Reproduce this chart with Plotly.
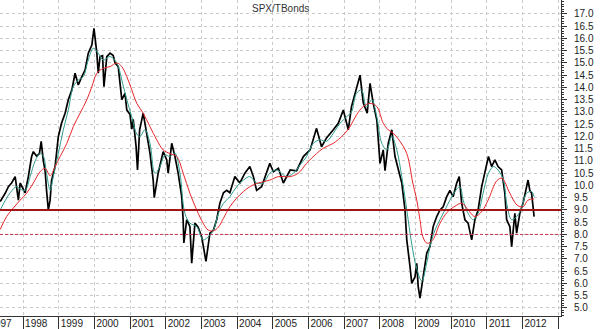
import plotly.graph_objects as go

# ---------------- data ----------------
chart_title = "SPX/TBonds"

ratio_t = [1997.36, 1997.45, 1997.50, 1997.59, 1997.68, 1997.78, 1997.82, 1997.87, 1997.92, 1998.01,
           1998.06, 1998.15, 1998.24, 1998.29, 1998.38, 1998.46, 1998.51, 1998.57, 1998.62, 1998.66,
           1998.71, 1998.76, 1998.80, 1998.90, 1998.99, 1999.08, 1999.18, 1999.27, 1999.37, 1999.46,
           1999.55, 1999.65, 1999.74, 1999.83, 1999.93, 1999.99, 2000.07, 2000.11, 2000.16, 2000.23,
           2000.27, 2000.35, 2000.44, 2000.53, 2000.58, 2000.67, 2000.72, 2000.77, 2000.86, 2000.91,
           2001.00, 2001.05, 2001.09, 2001.17, 2001.21, 2001.27, 2001.37, 2001.47, 2001.56, 2001.65,
           2001.68, 2001.79, 2001.89, 2001.93, 2002.03, 2002.07, 2002.17, 2002.26, 2002.35, 2002.45,
           2002.49, 2002.51, 2002.59, 2002.68, 2002.73, 2002.82, 2002.91, 2003.01, 2003.13, 2003.24,
           2003.34, 2003.43, 2003.52, 2003.62, 2003.71, 2003.80, 2003.94, 2004.08, 2004.22, 2004.36,
           2004.46, 2004.55, 2004.69, 2004.78, 2004.92, 2005.02, 2005.16, 2005.30, 2005.49, 2005.67,
           2005.86, 2006.05, 2006.23, 2006.37, 2006.51, 2006.70, 2006.84, 2006.98, 2007.12, 2007.21,
           2007.31, 2007.45, 2007.54, 2007.65, 2007.73, 2007.82, 2007.92, 2008.01, 2008.10, 2008.15,
           2008.24, 2008.34, 2008.43, 2008.52, 2008.62, 2008.71, 2008.76, 2008.85, 2008.90, 2008.99,
           2009.04, 2009.08, 2009.13, 2009.22, 2009.32, 2009.41, 2009.50, 2009.60, 2009.69, 2009.78,
           2009.88, 2009.97, 2010.06, 2010.16, 2010.23, 2010.30, 2010.39, 2010.48, 2010.58, 2010.67,
           2010.76, 2010.86, 2010.95, 2011.05, 2011.14, 2011.23, 2011.32, 2011.42, 2011.51, 2011.56,
           2011.65, 2011.70, 2011.79, 2011.84, 2011.93, 2012.02, 2012.16, 2012.21, 2012.26, 2012.30,
           2012.33]
ratio_v = [9.34, 9.55, 9.68, 9.95, 10.10, 10.36, 9.95, 9.40, 10.10, 9.80,
           9.70, 10.36, 11.17, 11.38, 11.20, 11.30, 11.80, 11.00, 10.60, 9.80,
           9.00, 9.40, 10.20, 10.77, 11.99, 12.54, 12.95, 13.50, 13.90, 14.58,
           14.10, 14.44, 14.71, 15.40, 15.73, 16.41, 15.40, 14.58, 15.26, 15.30,
           14.03, 15.26, 15.40, 15.30, 15.00, 14.85, 14.00, 13.50, 13.76, 13.08,
           12.90, 12.30, 12.70, 11.60, 10.63, 12.27, 12.95, 12.00, 11.32, 10.22,
           9.50, 10.50, 11.18, 11.38, 11.04, 10.50, 11.72, 11.18, 10.50, 9.54,
           8.60, 7.65, 8.60, 8.32, 6.83, 8.46, 8.30, 7.90, 6.90, 8.05,
           8.18, 8.60, 9.27, 9.70, 9.80, 9.70, 10.36, 10.10, 10.50, 10.77,
           10.36, 9.80, 9.95, 10.36, 10.90, 10.56, 10.70, 10.10, 10.63, 10.60,
           11.18, 11.45, 12.33, 11.58, 11.94, 12.27, 12.54, 13.08, 12.27, 13.22,
           13.76, 14.50, 13.37, 12.95, 14.17, 13.35, 12.67, 10.90, 11.45, 10.60,
           11.72, 12.27, 11.18, 10.63, 10.10, 9.00, 7.78, 6.69, 6.00, 6.27,
           6.82, 5.87, 5.40, 6.27, 7.24, 7.50, 8.32, 8.73, 9.00, 9.13,
           9.54, 9.80, 9.54, 10.10, 10.36, 9.27, 8.60, 8.46, 7.78, 8.60,
           9.00, 9.95, 10.60, 11.18, 10.77, 11.04, 10.77, 10.63, 9.68, 8.60,
           8.32, 7.50, 8.86, 8.05, 8.86, 9.27, 10.22, 9.80, 9.68, 9.13,
           8.73]

short_ma_t = [1997.36, 1997.64, 1997.82, 1997.92, 1998.06, 1998.20, 1998.34, 1998.48, 1998.57, 1998.66,
              1998.76, 1998.85, 1998.99, 1999.13, 1999.27, 1999.41, 1999.55, 1999.69, 1999.83, 1999.97,
              2000.11, 2000.25, 2000.44, 2000.63, 2000.77, 2000.91, 2001.05, 2001.19, 2001.28, 2001.42,
              2001.56, 2001.70, 2001.84, 2001.98, 2002.12, 2002.26, 2002.40, 2002.54, 2002.68, 2002.87,
              2003.05, 2003.19, 2003.34, 2003.48, 2003.62, 2003.80, 2003.99, 2004.18, 2004.36, 2004.55,
              2004.74, 2004.92, 2005.11, 2005.39, 2005.58, 2005.77, 2005.95, 2006.14, 2006.33, 2006.51,
              2006.70, 2006.89, 2007.07, 2007.21, 2007.35, 2007.49, 2007.63, 2007.78, 2007.92, 2008.06,
              2008.20, 2008.34, 2008.48, 2008.62, 2008.76, 2008.90, 2009.04, 2009.18, 2009.32, 2009.41,
              2009.55, 2009.69, 2009.83, 2009.97, 2010.11, 2010.25, 2010.34, 2010.48, 2010.62, 2010.76,
              2010.90, 2011.05, 2011.19, 2011.32, 2011.47, 2011.56, 2011.70, 2011.84, 2011.98, 2012.12,
              2012.26, 2012.33]
short_ma_v = [9.00, 9.70, 9.95, 9.85, 9.80, 10.36, 11.00, 11.30, 11.20, 10.50,
              9.80, 10.36, 11.30, 12.27, 13.08, 14.03, 14.30, 14.44, 15.12, 15.60,
              15.40, 15.12, 15.26, 15.00, 14.30, 13.50, 12.80, 12.10, 12.00, 12.27,
              11.72, 10.50, 10.77, 11.24, 11.18, 11.32, 10.50, 8.86, 8.46, 8.32,
              7.78, 7.90, 8.18, 8.86, 9.27, 9.54, 9.95, 10.22, 10.36, 10.10,
              10.10, 10.50, 10.63, 10.36, 10.50, 10.84, 11.18, 11.72, 11.86, 11.80,
              12.13, 12.54, 12.80, 13.00, 13.76, 13.90, 13.20, 13.50, 12.80, 11.72,
              11.45, 12.00, 11.45, 10.36, 9.00, 7.60, 6.60, 6.10, 6.84, 7.50,
              8.18, 8.60, 9.00, 9.40, 9.75, 9.95, 9.40, 8.86, 8.60, 8.86,
              9.68, 10.50, 10.77, 10.63, 10.22, 9.27, 8.60, 8.73, 9.08, 9.68,
              9.75, 9.54]

long_ma_t = [1997.36, 1997.54, 1997.73, 1997.92, 1998.10, 1998.29, 1998.48, 1998.62, 1998.76, 1998.90,
             1999.04, 1999.23, 1999.41, 1999.60, 1999.79, 1999.93, 2000.07, 2000.25, 2000.44, 2000.63,
             2000.77, 2000.91, 2001.05, 2001.19, 2001.37, 2001.56, 2001.75, 2001.93, 2002.12, 2002.31,
             2002.49, 2002.68, 2002.87, 2003.05, 2003.19, 2003.34, 2003.48, 2003.62, 2003.80, 2003.99,
             2004.18, 2004.36, 2004.55, 2004.74, 2004.92, 2005.16, 2005.49, 2005.72, 2005.95, 2006.23,
             2006.42, 2006.70, 2006.98, 2007.17, 2007.35, 2007.54, 2007.73, 2007.92, 2008.10, 2008.24,
             2008.38, 2008.57, 2008.76, 2008.93, 2009.04, 2009.13, 2009.21, 2009.33, 2009.49, 2009.69,
             2009.89, 2010.11, 2010.31, 2010.48, 2010.67, 2010.87, 2011.04, 2011.29, 2011.43, 2011.65,
             2011.85, 2012.02, 2012.16, 2012.33]
long_ma_v = [8.20, 8.73, 9.08, 9.40, 9.68, 10.10, 10.56, 10.70, 10.40, 10.77,
             11.18, 11.72, 12.40, 12.95, 13.50, 14.03, 14.58, 14.78, 14.85, 15.00,
             14.85, 14.44, 13.90, 13.35, 12.95, 12.40, 11.86, 11.45, 11.30, 11.18,
             10.50, 9.68, 9.00, 8.46, 8.18, 8.15, 8.30, 8.66, 9.13, 9.48,
             9.75, 9.95, 10.08, 10.15, 10.22, 10.36, 10.36, 10.50, 10.90, 11.30,
             11.52, 11.72, 12.06, 12.40, 12.88, 13.22, 13.35, 13.22, 12.54, 12.27,
             12.13, 11.80, 11.30, 10.10, 9.40, 8.60, 7.90, 7.64, 7.78, 8.45,
             8.90, 9.15, 9.27, 9.00, 8.73, 8.95, 9.40, 10.20, 10.29, 9.68,
             9.20, 9.13, 9.40, 9.45]

support_level = 9.0
dashed_level = 8.0

year_ticks = list(range(1997, 2014))
year_labels = [str(y) for y in range(1997, 2013)]
y_ticks = [5.0 + 0.5 * i for i in range(25)]
y_labels = ["%.1f" % v for v in y_ticks]

# ---------------- figure ----------------
x_range = [1997.355, 2013.084]
y_range = [4.67, 17.57]
font_family = "Arial, Liberation Sans, sans-serif"
grid_col = "#c9c9c9"
axis_col = "#333333"

fig = go.Figure()
fig.add_trace(go.Scatter(x=ratio_t, y=ratio_v, mode="lines",
                         line=dict(color="#000000", width=1.7), hoverinfo="skip"))
fig.add_trace(go.Scatter(x=short_ma_t, y=short_ma_v, mode="lines", line_shape="spline",
                         line=dict(color="#2f9c8e", width=1), hoverinfo="skip"))
fig.add_trace(go.Scatter(x=long_ma_t, y=long_ma_v, mode="lines", line_shape="spline",
                         line=dict(color="#e8262a", width=1), hoverinfo="skip"))
# invisible trace so the label axis exists
fig.add_trace(go.Scatter(x=[], y=[], xaxis="x2", hoverinfo="skip"))

fig.add_shape(type="line", xref="paper", x0=0, x1=1, yref="y", y0=support_level, y1=support_level,
              line=dict(color="#a01515", width=2), layer="above")
fig.add_shape(type="line", xref="paper", x0=0, x1=1, yref="y", y0=dashed_level, y1=dashed_level,
              line=dict(color="#c8324e", width=1, dash="3px,2px"), layer="above")

fig.add_annotation(text=chart_title, xref="paper", yref="paper", x=0.5, y=1, yanchor="top",
                   xanchor="center", yshift=-1, showarrow=False,
                   font=dict(family=font_family, size=10, color="#333333"))

fig.update_layout(
    width=600, height=329,
    margin=dict(l=0, r=39, t=0, b=13, autoexpand=False),
    paper_bgcolor="white", plot_bgcolor="white",
    showlegend=False,
    xaxis=dict(range=x_range, tickmode="array", tickvals=year_ticks, showticklabels=False,
               ticks="outside", ticklen=12, tickwidth=1, tickcolor=axis_col,
               showline=True, linecolor=axis_col, linewidth=1, automargin=False,
               showgrid=True, gridcolor=grid_col, griddash="3px,3px", gridwidth=1,
               zeroline=False),
    xaxis2=dict(range=x_range, overlaying="x", anchor="y", side="bottom",
                tickmode="array", tickvals=[y + 0.37 for y in range(1997, 2013)], ticktext=year_labels,
                ticks="", showline=False, showgrid=False, zeroline=False,
                ticklabeloverflow="allow", automargin=False,
                tickfont=dict(family=font_family, size=10, color="#222222")),
    yaxis=dict(range=y_range, side="right", tickmode="array", tickvals=y_ticks, ticktext=y_labels,
               ticks="outside", ticklen=5, tickcolor=axis_col,
               showline=True, linecolor=axis_col, linewidth=1, automargin=False,
               showgrid=True, gridcolor=grid_col, griddash="3px,3px", gridwidth=1,
               zeroline=False, ticklabelstandoff=5,
               minor=dict(tickmode="linear", tick0=0, dtick=0.1, ticks="outside", ticklen=2,
                          tickcolor=axis_col, showgrid=False),
               tickfont=dict(family=font_family, size=10, color="#222222")),
)

fig.write_html("out.html")
